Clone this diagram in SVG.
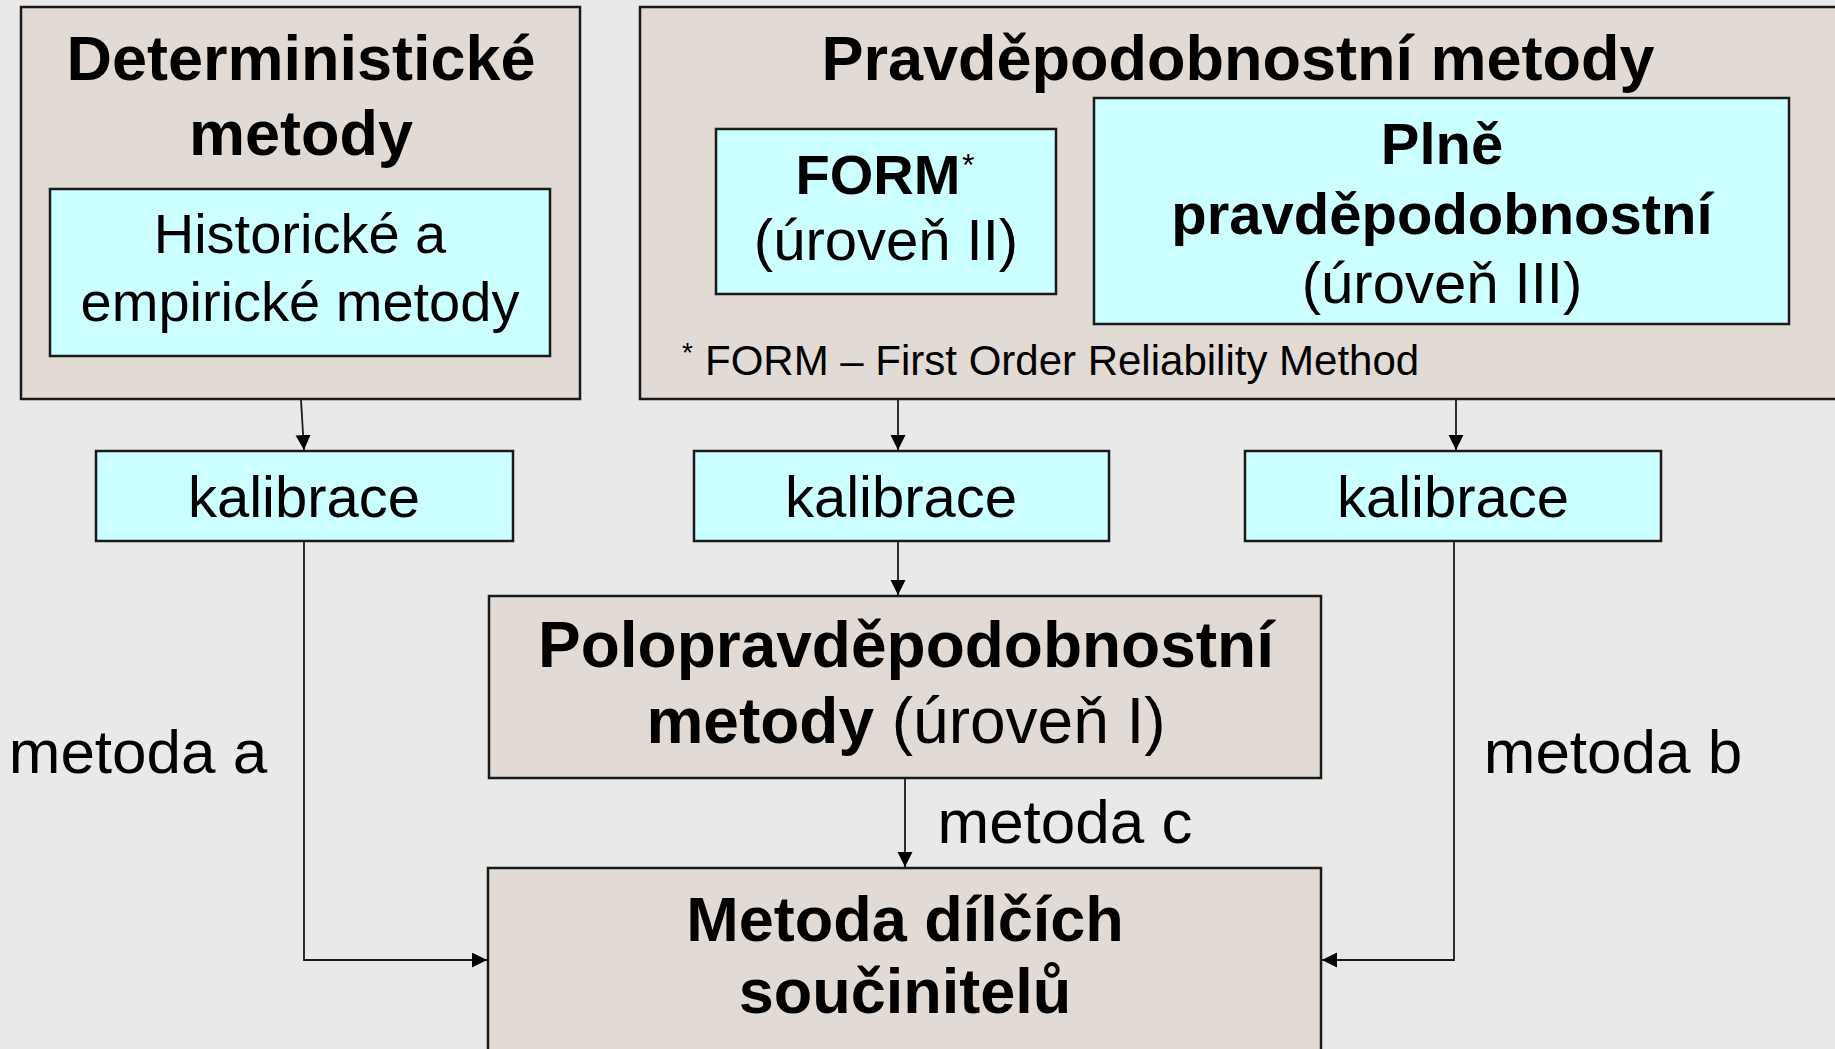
<svg xmlns="http://www.w3.org/2000/svg" width="1835" height="1049" viewBox="0 0 1835 1049">
<style>
.bg{fill:#E9E9E9}
.grp{fill:#E2DAD4;stroke:#1A1A1A;stroke-width:2.5}
.cyan{fill:#CCFFFF;stroke:#1A1A1A;stroke-width:2.5}
text{font-family:"Liberation Sans",Arial,sans-serif;fill:#000;text-anchor:middle}
text.s{text-anchor:start}
.b{font-weight:bold}
.conn{fill:none;stroke:#1A1A1A;stroke-width:1.8}
</style>
<defs>
<marker id="arr" markerUnits="userSpaceOnUse" markerWidth="16" markerHeight="16" refX="15" refY="7.5" orient="auto">
<path d="M0,0 L15,7.5 L0,15 z" fill="#000"/>
</marker>
</defs>
<rect class="bg" x="0" y="0" width="1835" height="1049"/>

<g id="deterministicke">
<rect class="grp" x="21" y="7" width="559" height="392"/>
<text class="b" x="301" y="80" font-size="63">Deterministické</text>
<text class="b" x="301" y="155" font-size="63">metody</text>
</g>
<g id="historicke">
<rect class="cyan" x="50" y="189" width="500" height="167"/>
<text x="300" y="253" font-size="56">Historické a</text>
<text x="300" y="321" font-size="56">empirické metody</text>
</g>

<g id="pravdepodobnostni">
<rect class="grp" x="640" y="7" width="1200" height="392"/>
<text class="b" x="1238" y="80" font-size="63">Pravděpodobnostní metody</text>
<text class="s" x="682" y="362" font-size="28">*</text>
<text class="s" x="705" y="375" font-size="42">FORM – First Order Reliability Method</text>
</g>
<g id="form">
<rect class="cyan" x="716" y="129" width="340" height="165"/>
<text class="b" x="878" y="194" font-size="56">FORM</text>
<text class="s" x="962" y="176" font-size="32">*</text>
<text x="886" y="260" font-size="58">(úroveň II)</text>
</g>
<g id="plne">
<rect class="cyan" x="1094" y="98" width="695" height="226"/>
<text class="b" x="1442" y="164" font-size="58">Plně</text>
<text class="b" x="1442" y="234" font-size="58">pravděpodobnostní</text>
<text x="1442" y="303" font-size="58">(úroveň III)</text>
</g>

<g id="kalibrace1">
<rect class="cyan" x="96" y="451" width="417" height="90"/>
<text x="304" y="517" font-size="58">kalibrace</text>
</g>
<g id="kalibrace2">
<rect class="cyan" x="694" y="451" width="415" height="90"/>
<text x="901" y="517" font-size="58">kalibrace</text>
</g>
<g id="kalibrace3">
<rect class="cyan" x="1245" y="451" width="416" height="90"/>
<text x="1453" y="517" font-size="58">kalibrace</text>
</g>

<g id="polopravdepodobnostni">
<rect class="grp" x="489" y="596" width="832" height="182"/>
<text class="b" x="906" y="667" font-size="64">Polopravděpodobnostní</text>
<text x="906" y="743" font-size="64"><tspan class="b">metody</tspan> (úroveň I)</text>
</g>

<g id="metoda-dilcich">
<rect class="grp" x="488" y="868" width="833" height="200"/>
<text class="b" x="905" y="941" font-size="63">Metoda dílčích</text>
<text class="b" x="905" y="1013" font-size="63">součinitelů</text>
</g>

<g id="connectors">
<path class="conn" d="M301,400 L304,450" marker-end="url(#arr)"/>
<path class="conn" d="M898,400 L898,450" marker-end="url(#arr)"/>
<path class="conn" d="M1456,400 L1456,450" marker-end="url(#arr)"/>
<path class="conn" d="M898,542 L898,595" marker-end="url(#arr)"/>
<path class="conn" d="M905,778 L905,867" marker-end="url(#arr)"/>
<path class="conn" d="M304,542 L304,960 L487,960" marker-end="url(#arr)"/>
<path class="conn" d="M1454,542 L1454,960 L1322,960" marker-end="url(#arr)"/>
<text x="138" y="773" font-size="62">metoda a</text>
<text x="1613" y="773" font-size="62">metoda b</text>
<text x="1065" y="843" font-size="62">metoda c</text>
</g>
</svg>
